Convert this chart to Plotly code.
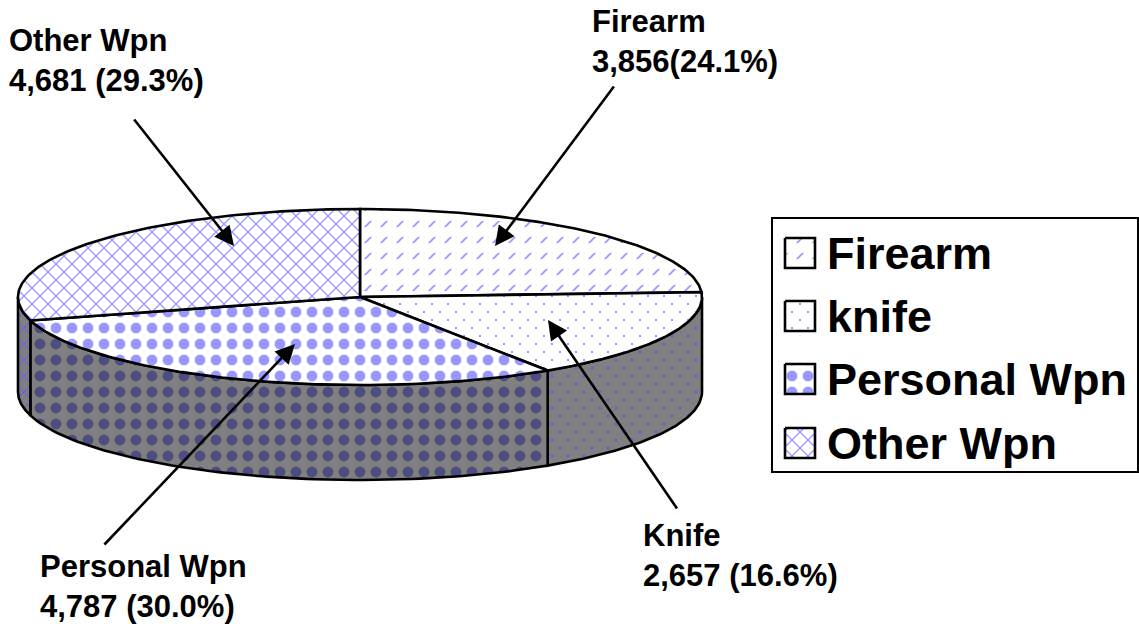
import numpy as np
import plotly.graph_objects as go

categories = ["Firearm", "knife", "Personal Wpn", "Other Wpn"]
values = [3856, 2657, 4787, 4681]
callouts = ["Firearm<br>3,856(24.1%)", "Knife<br>2,657 (16.6%)",
            "Personal Wpn<br>4,787 (30.0%)", "Other Wpn<br>4,681 (29.3%)"]

W, H = 1139, 627
CX, CY, A, B, D = 360, 297, 342, 88, 95
PURPLE = "#9999FF"
DARK = "#4D4D80"
SIDE = "#808080"
SIDE_DOT = "#6666D0"
DIAG = 16 / np.sqrt(2)  # plotly widens "/" and "x" tiles by sqrt(2): this gives a 16 px tile


def pat(shape, size, solidity, fg, bg):
    return dict(shape=shape, size=size, solidity=solidity, fgcolor=fg, bgcolor=bg, fgopacity=1)


# (base pattern, optional mask pattern drawn over it to break lines into dashes or dots)
TOP = [
    (pat("/", DIAG, 0.15, PURPLE, "white"), pat("-", 16, 0.62, "white", "rgba(0,0,0,0)")),
    (pat("x", DIAG, 0.46, PURPLE, "white"), pat("+", 8, 0.9375, "white", "rgba(0,0,0,0)")),
    (pat(".", 16, 0.36, PURPLE, "white"), None),
    (pat("x", DIAG, 0.22, PURPLE, "white"), None),
]
RIM = [
    (pat("/", DIAG, 0.15, SIDE_DOT, SIDE), pat("-", 16, 0.62, SIDE, "rgba(0,0,0,0)")),
    (pat("x", DIAG, 0.5, SIDE_DOT, SIDE), pat("+", 8, 0.86, SIDE, "rgba(0,0,0,0)")),
    (pat(".", 16, 0.36, DARK, SIDE), None),
    (pat("x", DIAG, 0.22, SIDE_DOT, SIDE), None),
]

fractions = np.array(values) / sum(values)
edges = np.concatenate([[0], np.cumsum(fractions)]) * 2 * np.pi


def ell(t, drop=0.0):
    return CX + A * np.sin(t), CY - B * np.cos(t) + drop


fig = go.Figure()
LINE = dict(color="black", width=2.6)


def poly(x, y, patterns, name):
    base, over = patterns
    fig.add_trace(go.Scatter(
        x=list(x), y=list(y), fill="toself", fillpattern=base, fillcolor="white",
        mode="none" if over else "lines", line=LINE, name=name,
        hoverinfo="name", showlegend=False))
    if over:
        fig.add_trace(go.Scatter(
            x=list(x), y=list(y), fill="toself", fillpattern=over, fillcolor="rgba(0,0,0,0)",
            mode="lines", line=LINE, name=name, hoverinfo="name", showlegend=False))


# rim of the pie: only the half facing the viewer (angle 90 to 270 degrees)
for i in range(len(values)):
    lo = max(edges[i], np.pi / 2)
    hi = min(edges[i + 1], 3 * np.pi / 2)
    if hi <= lo:
        continue
    t = np.linspace(lo, hi, 80)
    xt, yt = ell(t)
    xb, yb = ell(t[::-1], D)
    poly(np.r_[xt, xb, xt[0]], np.r_[yt, yb, yt[0]], RIM[i], categories[i])

# top faces
for i in range(len(values)):
    t = np.linspace(edges[i], edges[i + 1], 120)
    xt, yt = ell(t)
    poly(np.r_[CX, xt, CX], np.r_[CY, yt, CY], TOP[i], categories[i])

# legend
LEG_X0, LEG_Y0, LEG_X1, LEG_Y1 = 772, 218, 1138, 472
rows = [253, 316, 379, 443]
for i, cat in enumerate(categories):
    r = rows[i]
    poly([785, 815, 815, 785, 785], [r - 15, r - 15, r + 15, r + 15, r - 15], TOP[i], cat)

shapes = [dict(type="rect", xref="x", yref="y", x0=LEG_X0, y0=LEG_Y0, x1=LEG_X1, y1=LEG_Y1,
               line=dict(color="black", width=2), fillcolor="rgba(0,0,0,0)")]

FONT = "Liberation Sans, Arial, sans-serif"
annotations = []
for i, cat in enumerate(categories):
    annotations.append(dict(x=825, y=rows[i], text="<b>%s</b>" % cat, showarrow=False,
                            xanchor="left", yanchor="middle",
                            font=dict(family=FONT, size=45, color="black")))

label_pos = [(590, 41), (641, 555), (38, 586), (7, 60)]
for (lx, ly), txt in zip(label_pos, callouts):
    annotations.append(dict(x=lx, y=ly, text="<b>%s</b>" % txt, showarrow=False, align="left",
                            xanchor="left", yanchor="middle",
                            font=dict(family=FONT, size=31, color="black")))

arrows = [((615, 85), (495, 246)), ((678, 510), (548, 320)),
          ((103, 546), (295, 344)), ((133, 118), (234, 246))]
for (sx, sy), (tx, ty) in arrows:
    annotations.append(dict(x=tx, y=ty, ax=sx, ay=sy, axref="x", ayref="y", text="", showarrow=True,
                            arrowhead=2, arrowsize=1.5, arrowwidth=2.6, arrowcolor="black", standoff=0))

fig.update_layout(
    width=W, height=H, margin=dict(l=0, r=0, t=0, b=0), paper_bgcolor="white", plot_bgcolor="white",
    xaxis=dict(range=[0, W], visible=False, fixedrange=True),
    yaxis=dict(range=[H, 0], visible=False, fixedrange=True),
    shapes=shapes, annotations=annotations, showlegend=False)

fig.write_html("out.html", config=dict(displayModeBar=False),
               post_script="document.body.style.margin='0';")
